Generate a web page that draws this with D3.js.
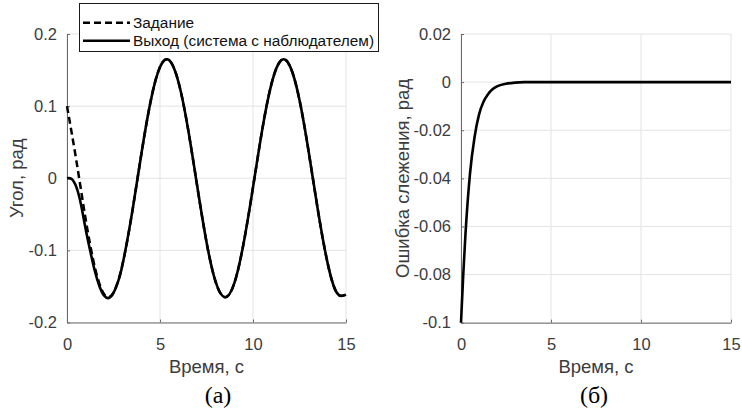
<!DOCTYPE html>
<html>
<head>
<meta charset="utf-8">
<script src="https://cdn.jsdelivr.net/npm/d3@7"></script>
<style>
  html, body { margin: 0; padding: 0; background: #fff; }
  svg { display: block; }
  text { font-family: "Liberation Sans", Arial, Helvetica, sans-serif; }
</style>
</head>
<body>
<svg id="fig" width="742" height="411"></svg>
<script>
// ---- data ----
// time grid shared by both panels
const xTicks = [0, 5, 10, 15];

// panel (а): angle, rad
const angleTicks = [-0.2, -0.1, 0, 0.1, 0.2];
const refTime = [0, 0.5, 1, 1.5, 2, 2.5, 3, 3.5, 4, 4.5, 5, 5.5, 6, 6.5, 7, 7.5,
                 8, 8.5, 9, 9.5, 10, 10.5, 11, 11.5, 12, 12.5, 13, 13.5, 14, 14.5, 15];
const refAngle = [0.100, 0.0249, -0.0563, -0.1238, -0.1609, -0.1587, -0.1176, -0.0477,
                  0.0339, 0.1072, 0.1542, 0.1635, 0.1327, 0.0695, -0.0108, -0.0884,
                  -0.1444, -0.1650, -0.1451, -0.0895, -0.0126, 0.0678, 0.1316, 0.1632,
                  0.1548, 0.1085, 0.0356, -0.0459, -0.1163, -0.1585, -0.1613];
const outTime = [0, 0.25, 0.5, 0.75, 1, 1.25, 1.5, 1.75, 2, 2.25, 2.5, 2.75, 3, 3.5,
                 4, 4.5, 5, 5.5, 6, 6.5, 7, 7.5, 8, 8.5, 9, 9.5, 10, 10.5, 11, 11.5,
                 12, 12.5, 13, 13.5, 14, 14.5, 15];
const outAngle = [0.000, -0.001, -0.012, -0.036, -0.070, -0.101, -0.129, -0.150, -0.163,
                  -0.166, -0.159, -0.143, -0.118, -0.0477, 0.0339, 0.1072, 0.1542, 0.1635,
                  0.1327, 0.0695, -0.0108, -0.0884, -0.1444, -0.1650, -0.1451, -0.0895,
                  -0.0126, 0.0678, 0.1316, 0.1632, 0.1548, 0.1085, 0.0356, -0.0459,
                  -0.1163, -0.1585, -0.1613];
const legendLabels = ["Задание", "Выход (система с наблюдателем)"];

// panel (б): tracking error, rad
const errTicks = [-0.1, -0.08, -0.06, -0.04, -0.02, 0, 0.02];
const errTime = [0, 0.125, 0.25, 0.5, 0.75, 1, 1.25, 1.5, 1.75, 2, 2.5, 3, 3.5, 4,
                 5, 6, 7, 8, 9, 10, 11, 12, 13, 14, 15];
const errValue = [-0.100, -0.080, -0.063, -0.038, -0.023, -0.0135, -0.0082, -0.0050,
                  -0.0030, -0.0018, -0.0007, -0.0002, 0, 0,
                  0, 0, 0, 0, 0, 0, 0, 0, 0, 0, 0];

// ---- drawing ----
const svg = d3.select("#fig");
svg.append("rect").attr("width", 742).attr("height", 411).attr("fill", "#fff");

const axisColor = "#6a6a6a";
const gridColor = "#e3e3e3";
const tickColor = "#3c3c3c";
const tickFont = 16.5;
const labelFont = 18.5;

const fmt = d => String(+d.toFixed(4));

function panel(opts) {
  const x = d3.scaleLinear().domain([0, 15]).range(opts.xr);
  const y = d3.scaleLinear().domain(opts.yd).range(opts.yr);
  const g = svg.append("g");

  // grid
  g.append("g").selectAll("line").data(xTicks).join("line")
    .attr("x1", d => x(d)).attr("x2", d => x(d))
    .attr("y1", opts.yr[0]).attr("y2", opts.yr[1])
    .attr("stroke", gridColor).attr("stroke-width", 1);
  g.append("g").selectAll("line").data(opts.yTicks).join("line")
    .attr("x1", opts.xr[0]).attr("x2", opts.xr[1])
    .attr("y1", d => y(d)).attr("y2", d => y(d))
    .attr("stroke", gridColor).attr("stroke-width", 1);

  // axes (ticks pointing inward)
  const ax = g.append("g").attr("transform", `translate(0,${opts.yr[0]})`)
    .call(d3.axisBottom(x).tickValues(xTicks).tickFormat(fmt).tickSizeInner(-3).tickSizeOuter(0).tickPadding(16));
  const ay = g.append("g").attr("transform", `translate(${opts.xr[0]},0)`)
    .call(d3.axisLeft(y).tickValues(opts.yTicks).tickFormat(fmt).tickSizeInner(-3).tickSizeOuter(0).tickPadding(10));
  [ax, ay].forEach(a => {
    a.select(".domain").attr("stroke", axisColor).attr("stroke-width", 1);
    a.selectAll(".tick line").attr("stroke", axisColor);
    a.selectAll(".tick text").attr("fill", tickColor)
      .style("font-family", '"Liberation Sans", Arial, sans-serif')
      .style("font-size", tickFont + "px");
  });

  // axis titles
  g.append("text").attr("x", (opts.xr[0] + opts.xr[1]) / 2).attr("y", 373)
    .attr("text-anchor", "middle").attr("fill", tickColor)
    .style("font-size", labelFont + "px").text("Время, с");
  g.append("text").attr("transform", `translate(${opts.ylx},${(opts.yr[0] + opts.yr[1]) / 2}) rotate(-90)`)
    .attr("text-anchor", "middle").attr("fill", tickColor)
    .style("font-size", labelFont + "px").text(opts.ylabel);

  // panel caption
  g.append("text").attr("x", opts.capx).attr("y", 403)
    .attr("text-anchor", "middle").attr("fill", "#000")
    .style("font-family", '"Liberation Serif", "Times New Roman", serif')
    .style("font-size", "24px").text(opts.caption);

  return { g, x, y };
}

// (а) angle
const A = panel({
  xr: [67, 346], yd: [-0.2, 0.2], yr: [322.5, 34], yTicks: angleTicks,
  ylabel: "Угол, рад", ylx: 23, caption: "(а)", capx: 218
});
const refLine = d3.line().curve(d3.curveNatural)
  .x((d, i) => A.x(refTime[i])).y(d => A.y(d));
const outLine = d3.line().curve(d3.curveNatural)
  .x((d, i) => A.x(outTime[i])).y(d => A.y(d));
A.g.append("path").attr("d", refLine(refAngle))
  .attr("fill", "none").attr("stroke", "#000").attr("stroke-width", 2.5)
  .attr("stroke-dasharray", "7,4");
A.g.append("path").attr("d", outLine(outAngle))
  .attr("fill", "none").attr("stroke", "#000").attr("stroke-width", 2.6);

// legend
const leg = svg.append("g");
leg.append("rect").attr("x", 79.5).attr("y", 3.5).attr("width", 299).attr("height", 48)
  .attr("fill", "#fff").attr("stroke", "#1a1a1a").attr("stroke-width", 1);
const legY = [22.7, 40.7];
legendLabels.forEach((lab, i) => {
  leg.append("line").attr("x1", 83).attr("x2", 130).attr("y1", legY[i]).attr("y2", legY[i])
    .attr("stroke", "#000").attr("stroke-width", i === 0 ? 2.5 : 2.6)
    .attr("stroke-dasharray", i === 0 ? "7,4" : null);
  leg.append("text").attr("x", 133).attr("y", legY[i] + 5.5)
    .attr("fill", "#111").style("font-size", "15.4px").text(lab);
});

// (б) tracking error
const B = panel({
  xr: [461, 731], yd: [-0.1, 0.02], yr: [322.7, 34], yTicks: errTicks,
  ylabel: "Ошибка слежения, рад", ylx: 409, caption: "(б)", capx: 594
});
const errLine = d3.line().curve(d3.curveMonotoneX)
  .x((d, i) => B.x(errTime[i])).y(d => B.y(d));
B.g.append("path").attr("d", errLine(errValue))
  .attr("fill", "none").attr("stroke", "#000").attr("stroke-width", 2.6);
</script>
</body>
</html>
